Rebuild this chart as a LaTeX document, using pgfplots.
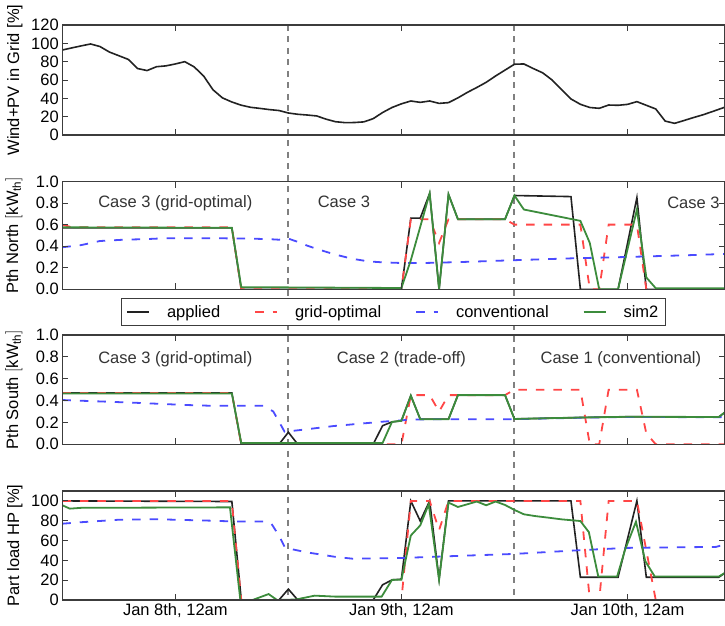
\documentclass[border=0pt]{standalone}
\usepackage{fontspec}
\setmainfont{Liberation Sans}
\usepackage{pgfplots}
\pgfplotsset{compat=1.18}
\pgfdeclarelayer{background}
\pgfsetlayers{background,main}
\definecolor{capplied}{RGB}{34,34,34}
\definecolor{cgrid}{RGB}{255,70,70}
\definecolor{cconv}{RGB}{75,75,255}
\definecolor{csim}{RGB}{60,140,60}
\definecolor{cspine}{RGB}{60,60,60}
\definecolor{cvline}{RGB}{128,128,128}
\newcommand{\fs}{\fontsize{16.5}{19}\selectfont}
\pgfplotsset{
  panel/.style={
    scale only axis, width=662.2pt, anchor=south west, axis on top,
    xmin=0, xmax=70.3, xtick={12,36,60},
    tick align=inside, major tick length=6pt,
    axis line style={cspine, line width=1.4pt},
    every tick/.style={cspine, line width=0.9pt},
    /pgf/number format/assume math mode=true,
    tick label style={font=\fs},
    label style={font=\fs},
    ylabel style={at={(axis description cs:-0.0548,0.5)}, anchor=south},
  },
  appl/.style={draw=capplied, line width=1.6pt},
  gopt/.style={draw=cgrid, line width=1.8pt, dash pattern=on 8.5pt off 9pt},
  conv/.style={draw=cconv, line width=1.8pt, dash pattern=on 8.5pt off 9pt},
  sim/.style={draw=csim, line width=1.8pt},
  onedec/.style={yticklabel style={/pgf/number format/fixed, /pgf/number format/fixed zerofill, /pgf/number format/precision=1}},
}
\begin{document}
\begin{tikzpicture}
\useasboundingbox (0,0) rectangle (725pt,625pt);
% ---------------- Panel 1
\begin{axis}[panel, at={(62.3pt,490pt)}, height=110pt, ymin=0, ymax=120, ytick={0,20,40,60,80,100,120},
  ylabel={Wind+PV in Grid [\%]}, xticklabels={,,}]
\addplot[appl] coordinates {
(0,92.7)(1,95)(2,97.2)(3,99.3)(4,96.5)(5,90.5)(6,86.5)(7,82.5)(8,72.5)(9,70.3)(10,74.5)(11,75.4)(12,77.5)(13,80)(14,74.3)(15,64.4)(16,49.3)(17,40.5)(18,36)(19,32.5)(20,30.2)(21,29)(22,27.7)(23,26.7)(24,24)(25,22.6)(26,21.8)(27,20.8)(28,17.3)(29,14.5)(30,13.5)(31,13.6)(32,14.3)(33,17.8)(34,24.5)(35,30)(36,34)(37,37.1)(38,35.6)(39,37.1)(40,34.5)(41,35.3)(42,40.5)(43,46.5)(44,51.8)(45,57.5)(46,64.4)(47,70.8)(48,77.2)(49,77.5)(50,72.5)(51,67.8)(52,60)(53,49.5)(54,39.3)(55,33.5)(56,30)(57,29.1)(58,32.7)(59,32.4)(60,33.4)(61,36.4)(62,32.4)(63,28.4)(64,15.2)(65,12.7)(66,15.8)(67,19)(68,22)(69,25.5)(70.3,30.2)
};
\coordinate (t1) at (axis cs:24,120);
\coordinate (t2) at (axis cs:48,120);
\end{axis}
% ---------------- Panel 2
\begin{axis}[panel, onedec, at={(62.3pt,335.7pt)}, height=107.8pt, ymin=0, ymax=1, ytick={0,0.2,0.4,0.6,0.8,1},
  ylabel={Pth North $[\mathrm{kW_{th}}]$}, xticklabels={,,},
  legend style={at={(0.5,-0.081)}, anchor=north, legend columns=4, draw=cspine, line width=1pt, fill=white,
    font=\fs, inner xsep=5pt, inner ysep=5pt,
    /tikz/every even column/.append style={column sep=32pt},
    /tikz/every odd column/.append style={column sep=15pt}},
  legend image code/.code={\draw[#1] (0pt,0pt) -- (22pt,0pt);}]
\addplot[appl] coordinates {
(0,0.57)(18,0.57)(19,0)(36,0)(37,0.66)(38,0.66)(39,0.89)(40,0)(41,0.88)(42,0.65)(47,0.65)(48,0.87)(54,0.86)(55,0)(59,0)(61,0.85)(62,0)(70.3,0)
};
\addplot[gopt] coordinates {
(0,0.6)(1,0.575)(18,0.575)(19,0)(36,0)(37,0.65)(39,0.65)(40,0.43)(41,0.65)(47,0.65)(48,0.6)(55,0.6)(56,0)(57,0)(58,0.6)(61,0.6)(62,0)(70.3,0)
};
\addplot[conv] coordinates {
(0,0.39)(2,0.41)(4,0.448)(6.5,0.46)(9,0.466)(11,0.474)(16,0.474)(20,0.47)(22,0.465)(23,0.46)(24,0.47)(25,0.44)(26,0.405)(27,0.375)(28,0.348)(29,0.322)(30,0.3)(31,0.28)(32,0.266)(33,0.256)(34,0.25)(36,0.244)(38,0.243)(42,0.252)(48,0.27)(54,0.287)(60,0.3)(66,0.315)(70.3,0.328)
};
\addplot[sim] coordinates {
(0,0.575)(18,0.57)(19,0.02)(36,0.012)(37,0.27)(38,0.58)(39,0.89)(40,0)(41,0.88)(42,0.65)(47,0.65)(48,0.87)(49,0.74)(55,0.635)(56,0.43)(57,0)(59,0)(61,0.74)(62,0.11)(63,0.01)(70.3,0.01)
};
\legend{applied,grid-optimal,conventional,sim2}
\node[font=\fs, text=black!80, anchor=base] at (axis cs:12,0.758) {Case 3 (grid-optimal)};
\node[font=\fs, text=black!80, anchor=base] at (axis cs:29.9,0.758) {Case 3};
\node[font=\fs, text=black!80, anchor=base] at (axis cs:67,0.753) {Case 3};
\end{axis}
% ---------------- Panel 3
\begin{axis}[panel, onedec, at={(62.3pt,180.7pt)}, height=109.3pt, ymin=0, ymax=1, ytick={0,0.2,0.4,0.6,0.8,1},
  ylabel={Pth South $[\mathrm{kW_{th}}]$}, xticklabels={,,}]
\addplot[appl] coordinates {
(0,0.47)(18,0.47)(19,0)(23,0)(24,0.11)(25,0)(33,0)(34,0.17)(35,0.205)(36,0.215)(37,0.445)(38,0.23)(41,0.23)(42,0.45)(47,0.45)(48,0.232)(55,0.245)(60,0.252)(69.7,0.25)(70.3,0.29)
};
\addplot[gopt] coordinates {
(0,0.47)(18,0.47)(19,0)(36,0)(37,0.45)(39,0.45)(40,0.3)(41,0.45)(47,0.45)(48,0.5)(55,0.5)(56,0)(57,0)(58,0.5)(61,0.5)(62,0.1)(63,0)(70.3,0)
};
\addplot[conv] coordinates {
(0,0.405)(7.5,0.381)(13,0.36)(16,0.352)(21.4,0.352)(22.4,0.3)(23.6,0.115)(25.2,0.13)(28.8,0.167)(31.8,0.19)(34,0.207)(36.4,0.222)(38,0.228)(47,0.23)(48,0.23)(55,0.243)(60,0.25)(69.7,0.248)(70.3,0.25)
};
\addplot[sim] coordinates {
(0,0.465)(18,0.465)(19,0.012)(34,0.012)(35,0.205)(36,0.215)(37,0.445)(38,0.23)(41,0.23)(42,0.45)(47,0.45)(48,0.232)(55,0.245)(60,0.252)(69.7,0.25)(70.3,0.29)
};
\node[font=\fs, text=black!80, anchor=base] at (axis cs:12,0.741) {Case 3 (grid-optimal)};
\node[font=\fs, text=black!80, anchor=base] at (axis cs:36,0.741) {Case 2 (trade-off)};
\node[font=\fs, text=black!80, anchor=base] at (axis cs:59.3,0.741) {Case 1 (conventional)};
\end{axis}
% ---------------- Panel 4
\begin{axis}[panel, at={(62.3pt,25pt)}, height=109pt, ymin=0, ymax=110, ytick={0,20,40,60,80,100},
  ylabel={Part load HP [\%]},
  xticklabels={{Jan 8th, 12am},{Jan 9th, 12am},{Jan 10th, 12am}}]
\addplot[appl] coordinates {
(0,100)(18,99.4)(19,0)(23,0)(24,11)(25,0)(33,0)(34,15.3)(35,20.3)(36,21)(37,100)(38,79.7)(39,100)(40,21)(41,100)(54,100)(55,23)(59,23)(61,100)(62,23)(69.7,23)(70.3,27)
};
\addplot[gopt] coordinates {
(0,100)(17.5,100)(18,98)(19,0)(36,0)(37,100)(39,100)(40,70.5)(41,100)(55,100)(56,0)(57,0)(58,100)(61,100)(63,0)(70.3,0)
};
\addplot[conv] coordinates {
(0,77)(2,78.5)(6,81)(10,81.5)(16,80)(18,79.3)(21.4,79.3)(22.2,77)(23,65)(23.6,53.6)(24.5,51)(26,48)(27.3,46.1)(29,43.5)(30.8,41.7)(36,42.4)(42,44.5)(48,46.5)(54.8,50.2)(60,52.6)(69.4,53.6)(70.3,56)
};
\addplot[sim] coordinates {
(0,95.6)(0.8,92.2)(2,93)(17.8,93.5)(18.9,0)(20.2,0)(21.9,6)(22.8,0)(24.8,0.5)(26.8,4.4)(29,3.4)(33.9,3.4)(35,20.3)(36,20.5)(37,65.1)(38,75.3)(38.9,96.6)(40,20.5)(41,98.3)(42,93.9)(43,96.6)(44,99.4)(45,95.6)(46,99.4)(47,95.9)(48,90.9)(49,86.5)(50.2,84.7)(51.6,83.1)(53,81.4)(55,79.7)(55.9,68.5)(56.9,23.7)(58.9,23.7)(59.75,50.9)(60.9,79)(61.9,39)(62.9,23.7)(69.7,23.7)(70.3,27.1)
};
\coordinate (b1) at (axis cs:24,0);
\coordinate (b2) at (axis cs:48,0);
\end{axis}
\begin{pgfonlayer}{background}
\draw[cvline, line width=2pt, dash pattern=on 6pt off 5.5pt] (t1) -- (b1);
\draw[cvline, line width=2pt, dash pattern=on 6pt off 5.5pt] (t2) -- (b2);
\end{pgfonlayer}
\end{tikzpicture}
\end{document}
